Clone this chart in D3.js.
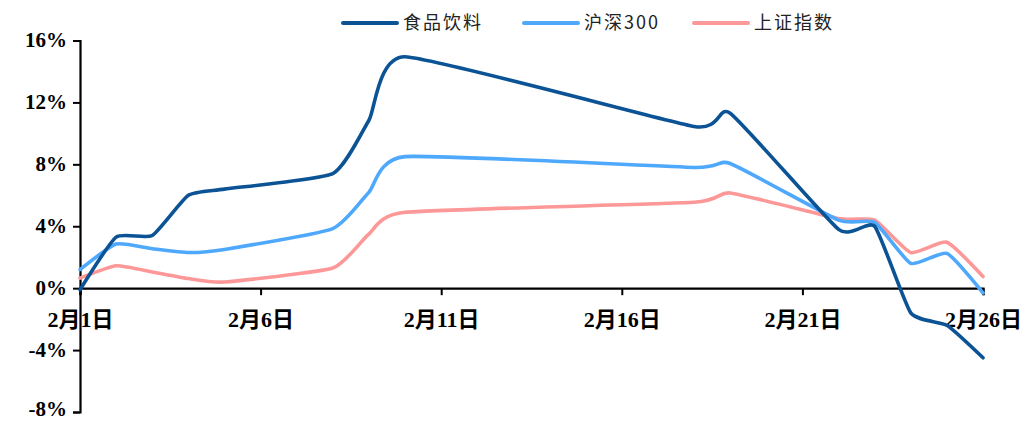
<!DOCTYPE html>
<html>
<head>
<meta charset="utf-8">
<script src="https://cdn.jsdelivr.net/npm/d3@7"></script>
<style>
  html, body { margin: 0; padding: 0; background: #fff; }
  svg { display: block; }
</style>
</head>
<body>
<svg id="chart" width="1026" height="421"></svg>
<script>
// Trading days, February 2021 (Spring Festival break 2/11–2/17)
const dates = ["2021-02-01","2021-02-02","2021-02-03","2021-02-04","2021-02-05",
               "2021-02-08","2021-02-09","2021-02-10","2021-02-18","2021-02-19",
               "2021-02-22","2021-02-23","2021-02-24","2021-02-25","2021-02-26"];
// Cumulative return (%)
const food  = [-0.1, 3.3, 3.4, 6.0, 6.4, 7.4, 10.85, 14.95, 10.45, 11.3, 3.8, 4.0, -1.6, -2.4, -4.5];
const hs300 = [1.2, 2.85, 2.55, 2.3, 2.5, 3.85, 6.2, 8.5, 7.8, 8.05, 4.4, 4.25, 1.6, 2.25, -0.3];
const shIdx = [0.65, 1.45, 1.05, 0.62, 0.4, 1.3, 3.5, 4.9, 5.55, 6.15, 4.5, 4.4, 2.3, 2.97, 0.75];

const seriesNames  = ["食品饮料", "沪深300", "上证指数"];
const seriesColors = ["#0b5395", "#4ea8fc", "#fd9898"];
const seriesValues = [food, hs300, shIdx];

const yTicks = [-8, -4, 0, 4, 8, 12, 16];
const xTickDates = ["2021-02-01","2021-02-06","2021-02-11","2021-02-16","2021-02-21","2021-02-26"];

const parse = d3.timeParse("%Y-%m-%d");
const svg = d3.select("#chart");

const x = d3.scaleTime()
  .domain([parse("2021-02-01"), parse("2021-02-26")])
  .range([80, 983]);
const y = d3.scaleLinear().domain([-8, 16]).range([412, 40.5]);

const labelFont = "'Liberation Serif','Times New Roman','Noto Sans CJK SC',serif";

// y axis
const yAxis = svg.append("g")
  .attr("transform", "translate(80,0)")
  .call(d3.axisLeft(y).tickValues(yTicks).tickSize(7).tickPadding(6)
        .tickFormat(d => d + "%"));
yAxis.select(".domain").attr("stroke", "#000").attr("stroke-width", 2.2);
yAxis.selectAll(".tick line").attr("stroke", "#000").attr("stroke-width", 2);
yAxis.selectAll(".tick text")
  .attr("font-family", labelFont).attr("font-weight", "bold")
  .attr("font-size", 21).attr("fill", "#000")
  .attr("dy", d => d === -8 ? "0.18em" : "0.3em");

// x axis along the zero line
const xAxis = svg.append("g")
  .attr("transform", `translate(0,${y(0)})`)
  .call(d3.axisBottom(x).tickValues(xTickDates.map(parse)).tickSize(7).tickPadding(16)
        .tickFormat(d => (d.getMonth() + 1) + "月" + d.getDate() + "日"));
xAxis.select(".domain").attr("stroke", "#000").attr("stroke-width", 2.2);
xAxis.selectAll(".tick line").attr("stroke", "#000").attr("stroke-width", 2);
xAxis.selectAll(".tick text")
  .attr("font-family", labelFont).attr("font-weight", "bold")
  .attr("font-size", 22).attr("fill", "#000");

// series lines (cardinal spline smoothing)
const line = d3.line()
  .x((d, i) => x(parse(dates[i])))
  .y(d => y(d))
  .curve(d3.curveCardinal.tension(0.5));

// draw order: index lines beneath the sector line
[2, 1, 0].forEach(k => {
  svg.append("path")
    .datum(seriesValues[k])
    .attr("fill", "none")
    .attr("stroke", seriesColors[k])
    .attr("stroke-width", 3.6)
    .attr("stroke-linecap", "round")
    .attr("stroke-linejoin", "round")
    .attr("d", line);
});

// legend
const legendX = [343, 524, 694];
const legend = svg.append("g");
seriesNames.forEach((name, i) => {
  const g = legend.append("g").attr("transform", `translate(${legendX[i]},23)`);
  g.append("line").attr("x1", 0).attr("x2", 54).attr("y1", 0).attr("y2", 0)
    .attr("stroke", seriesColors[i]).attr("stroke-width", 4).attr("stroke-linecap", "round");
  g.append("text").attr("x", 60).attr("y", 0).attr("dy", "0.36em")
    .attr("font-family", "'Noto Sans CJK SC','Liberation Sans',sans-serif")
    .attr("font-size", 18).attr("letter-spacing", 2).attr("fill", "#222")
    .text(name);
});
</script>
</body>
</html>
